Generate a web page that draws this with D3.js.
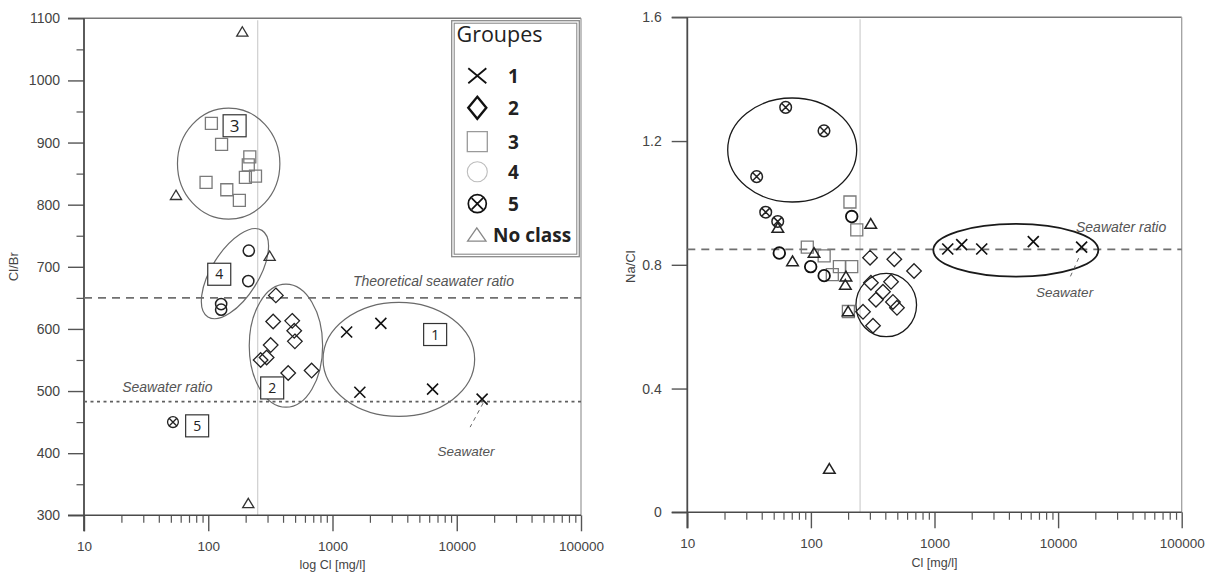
<!DOCTYPE html>
<html>
<head>
<meta charset="utf-8">
<script src="https://cdn.jsdelivr.net/npm/d3@7"></script>
<style>
  html, body { margin: 0; padding: 0; background: #fff; }
  svg { display: block; }
</style>
</head>
<body>
<svg id="chart" width="1216" height="572"></svg>
<script>
// ---------------- data ----------------
const clTicks = [10, 100, 1000, 10000, 100000];
const clBrTicks = [300, 400, 500, 600, 700, 800, 900, 1000, 1100];
const naClTicks = [0, 0.4, 0.8, 1.2, 1.6];
const legendGroups = ["1", "2", "3", "4", "5", "No class"];

// reference values
const clLimit = 250;            // mg/l
const theoreticalClBr = 650;
const seawaterClBr = 483;
const seawaterNaCl = 0.85;

// Cl [mg/l] vs Cl/Br, one array per group
const clBrGroup1 = [[1300, 595], [2450, 609], [1660, 498], [6390, 503]];
const clBrGroup2 = [[350, 654], [333, 612], [474, 613], [492, 597], [498, 580],
                    [318, 574], [295, 554], [264, 550], [440, 529], [679, 533]];
const clBrGroup3 = [[106, 931], [128, 897], [216, 877], [210, 864], [199, 844],
                    [240, 846], [96, 836], [141, 824], [178, 807]];
const clBrGroup4 = [[212, 726], [210, 677], [127, 640], [127, 631]];
const clBrGroup5 = [[52, 450]];
const clBrNoClass = [[188, 1078], [55, 815], [312, 717], [210, 319]];
const clBrSeawater = [16000, 487];

// Cl [mg/l] vs Na/Cl, one array per group
const naClGroup1 = [[1280, 0.851], [1660, 0.865], [2410, 0.851], [6300, 0.875]];
const naClGroup2 = [[301, 0.823], [473, 0.818], [683, 0.780], [264, 0.648], [318, 0.603],
                    [336, 0.687], [383, 0.713], [445, 0.745], [461, 0.680], [497, 0.661],
                    [306, 0.742]];
const naClGroup3 = [[207, 1.003], [235, 0.913], [93.5, 0.857], [128, 0.829], [170, 0.794],
                    [214, 0.794], [149, 0.768], [201, 0.649]];
const naClGroup4 = [[55.5, 0.838], [99.6, 0.794], [128, 0.765], [214, 0.956]];
const naClGroup5 = [[62.5, 1.309], [127.6, 1.233], [36.4, 1.085], [43.1, 0.970], [53.9, 0.940]];
const naClNoClass = [[54, 0.919], [71, 0.811], [106, 0.838], [305, 0.932], [192, 0.762],
                     [190, 0.735], [200, 0.649], [141, 0.140]];
const naClSeawater = [15500, 0.857];

// group envelopes (centre in data units)
const clBrEnvelopes = [
  { group: "1", cl: 3420, v: 551 },
  { group: "2", cl: 422, v: 573 },
  { group: "3", cl: 146, v: 866 },
  { group: "4", cl: 164, v: 689 }
];
const naClEnvelopes = [
  { group: "1", cl: 4550, v: 0.847 },
  { group: "2", cl: 407, v: 0.670 },
  { group: "5", cl: 70.6, v: 1.171 }
];
// group tags on the Cl/Br panel (position in data units)
const clBrTags = [
  { label: "1", cl: 6700, v: 591 },
  { label: "2", cl: 327, v: 505 },
  { label: "3", cl: 163, v: 927 },
  { label: "4", cl: 122.6, v: 688 },
  { label: "5", cl: 81.4, v: 444 }
];

// ---------------- drawing ----------------
const svg = d3.select("#chart");
const FONT = '"Liberation Sans", Arial, sans-serif';
const LEGEND_FONT = '"Open Sans", "Liberation Sans", sans-serif';

const xL = d3.scaleLog().domain([10, 100000]).range([84, 581]);
const yL = d3.scaleLinear().domain([300, 1100]).range([515.3, 18.3]);
const xR = d3.scaleLog().domain([10, 100000]).range([687.3, 1181.7]);
const yR = d3.scaleLinear().domain([0, 1.6]).range([512.3, 17.3]);

// marker outlines centred on 0,0
const shapes = {
  cross: (w, h) => `M${-w},${-h}L${w},${h}M${-w},${h}L${w},${-h}`,
  diamond: (w, h) => `M0,${-h}L${w},0L0,${h}L${-w},0Z`,
  square: (w, h) => `M${-w},${-h}H${w}V${h}H${-w}Z`,
  circle: (w) => `M${w},0A${w},${w} 0 1,1 ${-w},0A${w},${w} 0 1,1 ${w},0Z`,
  circleX: (w) => {
    const k = w * 0.62;
    return `M${w},0A${w},${w} 0 1,1 ${-w},0A${w},${w} 0 1,1 ${w},0Z` +
           `M${-k},${-k}L${k},${k}M${-k},${k}L${k},${-k}`;
  },
  triangle: (w, h) => `M0,${-h}L${w},${h * 0.8}L${-w},${h * 0.8}Z`
};

const groupShape = { "1": "cross", "2": "diamond", "3": "square", "4": "circle", "5": "circleX", "No class": "triangle" };

const leftStyle = {
  "1": { w: 5.5, h: 5.5, stroke: "#111", sw: 1.6 },
  "2": { w: 7.3, h: 7.3, stroke: "#222", sw: 1.3 },
  "3": { w: 6, h: 6, stroke: "#7a7a7a", sw: 1.3 },
  "4": { w: 5.6, h: 5.6, stroke: "#222", sw: 1.5 },
  "5": { w: 5.4, h: 5.4, stroke: "#222", sw: 1.3 },
  "No class": { w: 5.6, h: 5.2, stroke: "#333", sw: 1.3 }
};
const rightStyle = {
  "1": { w: 5.5, h: 5.5, stroke: "#111", sw: 1.7 },
  "2": { w: 7.3, h: 7.3, stroke: "#222", sw: 1.3 },
  "3": { w: 6, h: 6, stroke: "#7a7a7a", sw: 1.3 },
  "4": { w: 5.8, h: 5.8, stroke: "#111", sw: 1.8 },
  "5": { w: 5.8, h: 5.8, stroke: "#222", sw: 1.5 },
  "No class": { w: 5.8, h: 5.4, stroke: "#222", sw: 1.5 }
};

function isDecade(v) {
  const l = Math.log10(v);
  return Math.abs(l - Math.round(l)) < 1e-6;
}

function drawPanel(cfg) {
  const { x, y, yTicks, yMinor, yFmt, yTick, yPad, xTitle, yTitle, yTitleX } = cfg;
  const g = svg.append("g");
  const [xa, xb] = x.range();
  const [ya, yb] = y.range();

  // limit line
  g.append("line")
    .attr("x1", x(clLimit)).attr("x2", x(clLimit))
    .attr("y1", yb + 2).attr("y2", ya)
    .attr("stroke", "#cfcfcf").attr("stroke-width", 1.2);

  // frame: top and right
  g.append("line").attr("x1", xa - yTick).attr("x2", xb).attr("y1", yb).attr("y2", yb)
    .attr("stroke", "#777").attr("stroke-width", 1.4);
  g.append("line").attr("x1", xb).attr("x2", xb).attr("y1", yb).attr("y2", ya)
    .attr("stroke", "#a0a0a0").attr("stroke-width", 1.3);

  // bottom axis: decades and minor ticks
  const minorX = x.ticks().filter(v => !isDecade(v));
  g.append("g").attr("transform", `translate(0,${ya})`)
    .call(d3.axisBottom(x).tickValues(minorX).tickSize(7.5).tickFormat(""))
    .call(s => s.select(".domain").remove())
    .call(s => s.selectAll("line").attr("stroke", "#555").attr("stroke-width", 1.2));
  g.append("g").attr("transform", `translate(0,${ya})`)
    .call(d3.axisBottom(x).tickValues(clTicks).tickSize(16).tickPadding(10).tickFormat(d3.format("d")))
    .call(s => s.select(".domain").remove())
    .call(s => s.selectAll("line").attr("stroke", "#555").attr("stroke-width", 1.4))
    .call(s => s.selectAll("text").attr("fill", "#444").attr("font-family", FONT).attr("font-size", 13.5));

  // left axis
  if (yMinor.length) {
    g.append("g").attr("transform", `translate(${xa},0)`)
      .call(d3.axisLeft(y).tickValues(yMinor).tickSize(7.5).tickFormat(""))
      .call(s => s.select(".domain").remove())
      .call(s => s.selectAll("line").attr("stroke", "#555").attr("stroke-width", 1.2));
  }
  g.append("g").attr("transform", `translate(${xa},0)`)
    .call(d3.axisLeft(y).tickValues(yTicks).tickSize(yTick).tickPadding(yPad).tickFormat(yFmt))
    .call(s => s.select(".domain").remove())
    .call(s => s.selectAll("line").attr("stroke", "#555").attr("stroke-width", 1.4))
    .call(s => s.selectAll("text").attr("fill", "#444").attr("font-family", FONT).attr("font-size", 14));

  // axis lines
  g.append("line").attr("x1", xa).attr("x2", xa).attr("y1", yb).attr("y2", ya + 16)
    .attr("stroke", "#4a4a4a").attr("stroke-width", 1.8);
  g.append("line").attr("x1", xa - yTick).attr("x2", xb).attr("y1", ya).attr("y2", ya)
    .attr("stroke", "#4a4a4a").attr("stroke-width", 1.6);

  // titles
  g.append("text").attr("x", (xa + xb) / 2).attr("y", cfg.xTitleY)
    .attr("text-anchor", "middle").attr("font-family", FONT).attr("font-size", 12.5)
    .attr("fill", "#444").text(xTitle);
  g.append("text").attr("transform", `translate(${yTitleX},266.7) rotate(-90)`)
    .attr("text-anchor", "middle").attr("dominant-baseline", "middle")
    .attr("font-family", FONT).attr("font-size", 13).attr("fill", "#444").text(yTitle);
  return g;
}

function drawPoints(g, x, y, group, points, style) {
  const st = style[group];
  const shape = shapes[groupShape[group]];
  g.append("g").selectAll("path").data(points).join("path")
    .attr("transform", d => `translate(${x(d[0])},${y(d[1])})`)
    .attr("d", shape(st.w, st.h))
    .attr("fill", "none").attr("stroke", st.stroke).attr("stroke-width", st.sw)
    .attr("stroke-linejoin", "miter");
}

// ---------- Cl/Br panel ----------
const gL = drawPanel({
  x: xL, y: yL, yTicks: clBrTicks,
  yMinor: yL.ticks(16).filter(v => v % 100 !== 0),
  yFmt: d3.format("d"), yTick: 16, yPad: 8,
  xTitle: "log Cl [mg/l]", xTitleY: 568.5,
  yTitle: "Cl/Br", yTitleX: 15
});

// reference ratios
gL.append("line").attr("x1", xL.range()[0]).attr("x2", xL.range()[1])
  .attr("y1", yL(theoreticalClBr)).attr("y2", yL(theoreticalClBr))
  .attr("stroke", "#707070").attr("stroke-width", 1.6).attr("stroke-dasharray", "8,6");
gL.append("line").attr("x1", xL.range()[0]).attr("x2", xL.range()[1])
  .attr("y1", yL(seawaterClBr)).attr("y2", yL(seawaterClBr))
  .attr("stroke", "#606060").attr("stroke-width", 1.6).attr("stroke-dasharray", "3,3.5");
gL.append("text").attr("x", xL(1460)).attr("y", yL(theoreticalClBr) - 11.5)
  .attr("font-family", FONT).attr("font-size", 14).attr("font-style", "italic")
  .attr("fill", "#555").text("Theoretical seawater ratio");
gL.append("text").attr("x", xL(20.3)).attr("y", yL(seawaterClBr) - 9.5)
  .attr("font-family", FONT).attr("font-size", 14).attr("font-style", "italic")
  .attr("fill", "#555").text("Seawater ratio");

// envelopes
const clBrEnvShape = {
  "1": { rx: 75.8, ry: 57, rot: 0 },
  "2": { rx: 36.7, ry: 61.5, rot: 0 },
  "3": { rx: 51.2, ry: 55.5, rot: 0 },
  "4": { rx: 51, ry: 23.5, rot: -58 }
};
gL.append("g").selectAll("ellipse").data(clBrEnvelopes).join("ellipse")
  .attr("cx", d => xL(d.cl)).attr("cy", d => yL(d.v))
  .attr("rx", d => clBrEnvShape[d.group].rx).attr("ry", d => clBrEnvShape[d.group].ry)
  .attr("transform", d => `rotate(${clBrEnvShape[d.group].rot},${xL(d.cl)},${yL(d.v)})`)
  .attr("fill", "none").attr("stroke", "#6a6a6a").attr("stroke-width", 1.2);

// group tags
const tagG = gL.append("g").selectAll("g").data(clBrTags).join("g")
  .attr("transform", d => `translate(${xL(d.cl)},${yL(d.v)})`);
tagG.append("rect").attr("x", -11.5).attr("y", -11).attr("width", 23).attr("height", 22)
  .attr("fill", "#fff").attr("stroke", "#333").attr("stroke-width", 1.2);
tagG.append("text").attr("text-anchor", "middle").attr("dy", "0.36em")
  .attr("font-family", LEGEND_FONT).attr("font-size", d => d.label === "3" ? 17 : 14)
  .attr("fill", "#222").text(d => d.label);

// seawater leader and label
gL.append("line").attr("x1", xL(clBrSeawater[0]) + 1).attr("y1", yL(clBrSeawater[1]) + 4)
  .attr("x2", xL(clBrSeawater[0]) - 12).attr("y2", yL(clBrSeawater[1]) + 28)
  .attr("stroke", "#666").attr("stroke-width", 1).attr("stroke-dasharray", "4,4");
gL.append("text").attr("x", xL(clBrSeawater[0]) - 16).attr("y", yL(clBrSeawater[1]) + 56.5)
  .attr("text-anchor", "middle").attr("font-family", FONT).attr("font-size", 13.5)
  .attr("font-style", "italic").attr("fill", "#555").text("Seawater");

drawPoints(gL, xL, yL, "3", clBrGroup3, leftStyle);
drawPoints(gL, xL, yL, "2", clBrGroup2, leftStyle);
drawPoints(gL, xL, yL, "4", clBrGroup4, leftStyle);
drawPoints(gL, xL, yL, "5", clBrGroup5, leftStyle);
drawPoints(gL, xL, yL, "No class", clBrNoClass, leftStyle);
drawPoints(gL, xL, yL, "1", clBrGroup1.concat([clBrSeawater]), leftStyle);

// legend
const lg = gL.append("g");
lg.append("rect").attr("x", 451.7).attr("y", 20.7).attr("width", 127.6).attr("height", 236)
  .attr("fill", "#fff").attr("stroke", "#8a8a8a").attr("stroke-width", 1.3);
lg.append("rect").attr("x", 454.2).attr("y", 23.2).attr("width", 122.6).attr("height", 231)
  .attr("fill", "none").attr("stroke", "#8a8a8a").attr("stroke-width", 1.1);
lg.append("text").attr("x", 456.5).attr("y", 41.5)
  .attr("font-family", LEGEND_FONT).attr("font-size", 21.5).attr("fill", "#222").text("Groupes");
const legendStyle = {
  "1": { w: 9, h: 7.5, stroke: "#111", sw: 1.8, cy: 75.8 },
  "2": { w: 9, h: 11, stroke: "#111", sw: 2.4, cy: 107.8 },
  "3": { w: 10, h: 10, stroke: "#9a9a9a", sw: 1.3, cy: 141.7 },
  "4": { w: 10, h: 10, stroke: "#bdbdbd", sw: 1.1, cy: 171.7 },
  "5": { w: 9, h: 9, stroke: "#111", sw: 1.7, cy: 203.7 },
  "No class": { w: 9.2, h: 7.4, stroke: "#888", sw: 1.3, cy: 235.3 }
};
const li = lg.selectAll("g.item").data(legendGroups).join("g").attr("class", "item");
li.append("path")
  .attr("transform", d => `translate(${d === "No class" ? 476.8 : 477.3},${legendStyle[d].cy})`)
  .attr("d", d => shapes[groupShape[d]](legendStyle[d].w, legendStyle[d].h))
  .attr("fill", "none").attr("stroke", d => legendStyle[d].stroke)
  .attr("stroke-width", d => legendStyle[d].sw);
li.append("text")
  .attr("x", d => d === "No class" ? 493 : 508)
  .attr("y", d => legendStyle[d].cy)
  .attr("dy", "0.36em")
  .attr("font-family", LEGEND_FONT).attr("font-weight", 700).attr("font-size", 19)
  .attr("fill", "#222").text(d => d);

// ---------- Na/Cl panel ----------
const gR = drawPanel({
  x: xR, y: yR, yTicks: naClTicks, yMinor: [],
  yFmt: d => d === 0 ? "0" : d3.format(".1f")(d), yTick: 15.6, yPad: 10,
  xTitle: "Cl [mg/l]", xTitleY: 566.5,
  yTitle: "Na/Cl", yTitleX: 631.7
});

gR.append("line").attr("x1", xR.range()[0]).attr("x2", xR.range()[1])
  .attr("y1", yR(seawaterNaCl)).attr("y2", yR(seawaterNaCl))
  .attr("stroke", "#707070").attr("stroke-width", 1.6).attr("stroke-dasharray", "8,6");
gR.append("text").attr("x", xR(13960)).attr("y", yR(seawaterNaCl) - 17)
  .attr("font-family", FONT).attr("font-size", 14).attr("font-style", "italic")
  .attr("fill", "#555").text("Seawater ratio");

const naClEnvShape = {
  "1": { rx: 82.5, ry: 26.3 },
  "2": { rx: 30.3, ry: 31.7 },
  "5": { rx: 64.5, ry: 52 }
};
gR.append("g").selectAll("ellipse").data(naClEnvelopes).join("ellipse")
  .attr("cx", d => xR(d.cl)).attr("cy", d => yR(d.v))
  .attr("rx", d => naClEnvShape[d.group].rx).attr("ry", d => naClEnvShape[d.group].ry)
  .attr("fill", "none").attr("stroke", "#1a1a1a")
  .attr("stroke-width", d => d.group === "1" ? 1.8 : 1.3);

gR.append("line").attr("x1", xR(naClSeawater[0]) - 3).attr("y1", yR(naClSeawater[1]) + 11)
  .attr("x2", xR(naClSeawater[0]) - 12).attr("y2", yR(naClSeawater[1]) + 31)
  .attr("stroke", "#666").attr("stroke-width", 1).attr("stroke-dasharray", "4,4");
gR.append("text").attr("x", xR(naClSeawater[0]) - 17).attr("y", yR(naClSeawater[1]) + 49.5)
  .attr("text-anchor", "middle").attr("font-family", FONT).attr("font-size", 13.5)
  .attr("font-style", "italic").attr("fill", "#555").text("Seawater");

drawPoints(gR, xR, yR, "3", naClGroup3, rightStyle);
drawPoints(gR, xR, yR, "2", naClGroup2, rightStyle);
drawPoints(gR, xR, yR, "4", naClGroup4, rightStyle);
drawPoints(gR, xR, yR, "5", naClGroup5, rightStyle);
drawPoints(gR, xR, yR, "No class", naClNoClass, rightStyle);
drawPoints(gR, xR, yR, "1", naClGroup1.concat([naClSeawater]), rightStyle);
</script>
</body>
</html>
